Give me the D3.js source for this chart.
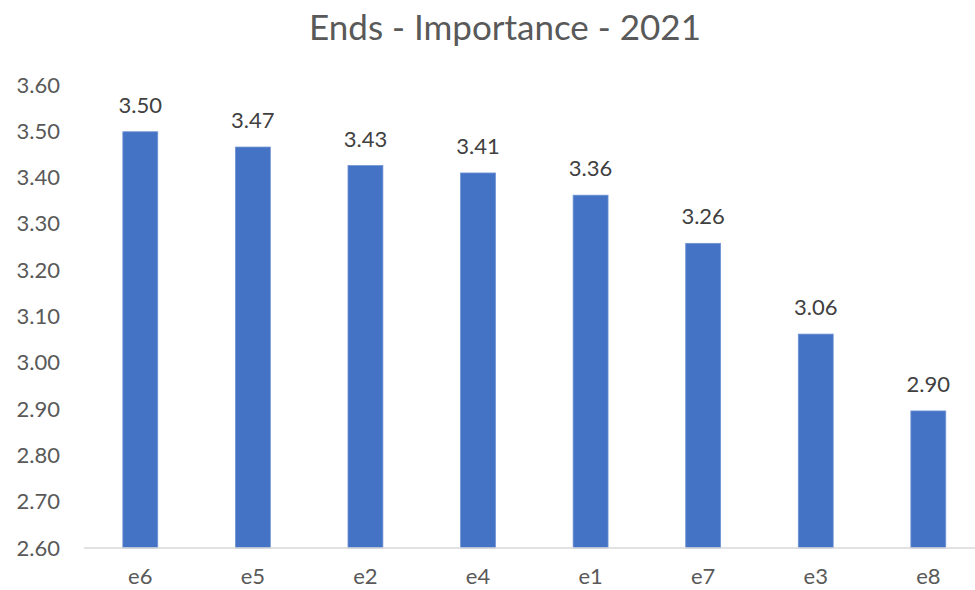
<!DOCTYPE html>
<html><head><meta charset="utf-8">
<script src="https://cdn.jsdelivr.net/npm/d3@7"></script>
<style>body{margin:0;background:#fff;} text{font-family:Lato,"Open Sans",sans-serif;}</style>
</head><body>
<svg id="c" width="975" height="590"></svg>
<script>
const categories = ["e6","e5","e2","e4","e1","e7","e3","e8"];
const values = [3.499, 3.466, 3.426, 3.410, 3.362, 3.258, 3.062, 2.896];
const yTicks = [2.6,2.7,2.8,2.9,3.0,3.1,3.2,3.3,3.4,3.5,3.6];
const title = "Ends - Importance - 2021";

const svg = d3.select("#c");
const x = d3.scaleBand().domain(categories).range([84, 984.6]).paddingInner(0.69).paddingOuter(0.345);
const y = d3.scaleLinear().domain([2.6, 3.6]).range([548, 85]);

svg.append("text").attr("x", 505).attr("y", 40).attr("text-anchor","middle")
  .attr("font-size", 35).attr("fill","#595959").text(title);

// y axis labels
const ya = svg.append("g").attr("transform","translate(60,0)")
  .call(d3.axisLeft(y).tickValues(yTicks).tickFormat(d3.format(".2f")).tickSize(0).tickPadding(0));
ya.select(".domain").remove();
ya.selectAll("text").attr("font-size",22).attr("fill","#595959").attr("font-family","Lato,sans-serif");

// bars
svg.selectAll("rect.bar").data(categories).enter().append("rect")
  .attr("x", d => x(d)).attr("width", x.bandwidth())
  .attr("y", (d,i) => y(values[i])).attr("height", (d,i) => y(2.6) - y(values[i]))
  .attr("fill","#4472c4").attr("stroke","#6f93d4").attr("stroke-width",0.8);

// x axis
const xa = svg.append("g").attr("transform","translate(0,548)")
  .call(d3.axisBottom(x).tickSize(0).tickPadding(20));
xa.select(".domain").attr("stroke","#d9d9d9").attr("stroke-width",1.5).attr("d","M84,0H975");
xa.selectAll("text").attr("font-size",22).attr("fill","#595959").attr("font-family","Lato,sans-serif");

// labels
svg.selectAll("text.lbl").data(categories).enter().append("text")
  .attr("x", d => x(d) + x.bandwidth()/2).attr("y", (d,i) => y(values[i]) - 19)
  .attr("text-anchor","middle").attr("font-size",22).attr("fill","#404040")
  .text((d,i) => d3.format(".2f")(values[i]));
</script>
</body></html>
